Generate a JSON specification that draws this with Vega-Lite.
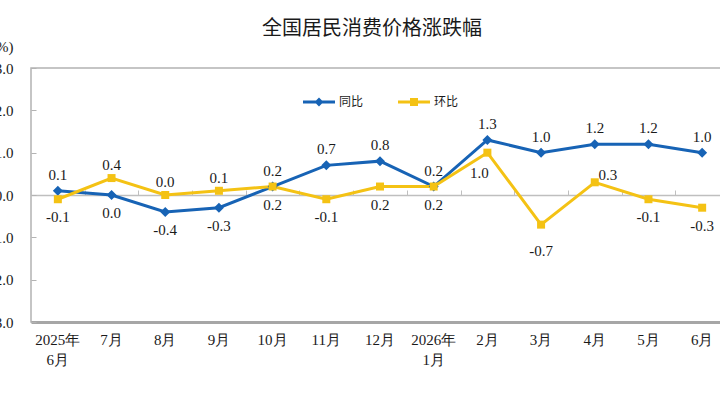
{
  "$schema": "https://vega.github.io/schema/vega-lite/v6.json",
  "autosize": "none",
  "width": 698,
  "height": 254,
  "padding": {"left": 31, "top": 68, "right": -9, "bottom": 83},
  "background": "white",
  "config": {
    "view": {"stroke": "#b3b3b3", "strokeWidth": 1.5},
    "font": "Liberation Serif"
  },
  "title": {
    "text": "全国居民消费价格涨跌幅",
    "font": "Noto Sans CJK SC",
    "fontSize": 20,
    "fontWeight": "normal",
    "color": "#1a1a1a",
    "anchor": "middle",
    "frame": "group",
    "dx": -8,
    "offset": 0
  },
  "data": {
    "values": [
      {"month": "2025年6月", "series": "同比", "value": 0.1},
      {"month": "7月", "series": "同比", "value": 0.0},
      {"month": "8月", "series": "同比", "value": -0.4},
      {"month": "9月", "series": "同比", "value": -0.3},
      {"month": "10月", "series": "同比", "value": 0.2},
      {"month": "11月", "series": "同比", "value": 0.7},
      {"month": "12月", "series": "同比", "value": 0.8},
      {"month": "2026年1月", "series": "同比", "value": 0.2},
      {"month": "2月", "series": "同比", "value": 1.3},
      {"month": "3月", "series": "同比", "value": 1.0},
      {"month": "4月", "series": "同比", "value": 1.2},
      {"month": "5月", "series": "同比", "value": 1.2},
      {"month": "6月", "series": "同比", "value": 1.0},
      {"month": "2025年6月", "series": "环比", "value": -0.1},
      {"month": "7月", "series": "环比", "value": 0.4},
      {"month": "8月", "series": "环比", "value": 0.0},
      {"month": "9月", "series": "环比", "value": 0.1},
      {"month": "10月", "series": "环比", "value": 0.2},
      {"month": "11月", "series": "环比", "value": -0.1},
      {"month": "12月", "series": "环比", "value": 0.2},
      {"month": "2026年1月", "series": "环比", "value": 0.2},
      {"month": "2月", "series": "环比", "value": 1.0},
      {"month": "3月", "series": "环比", "value": -0.7},
      {"month": "4月", "series": "环比", "value": 0.3},
      {"month": "5月", "series": "环比", "value": -0.1},
      {"month": "6月", "series": "环比", "value": -0.3}
    ]
  },
  "resolve": {"axis": {"x": "independent"}},
  "encoding": {
    "y": {
      "field": "value",
      "type": "quantitative",
      "scale": {"domain": [-3, 3]},
      "axis": {
        "title": "(%)",
        "titleAngle": 0,
        "titleAlign": "right",
        "titleBaseline": "middle",
        "titleX": -18,
        "titleY": -22,
        "titleFont": "Liberation Serif",
        "titleFontSize": 15,
        "titleFontWeight": "normal",
        "titleColor": "#1a1a1a",
        "values": [-3, -2, -1, 0, 1, 2, 3],
        "labelExpr": "replace(format(datum.value, '.1f'), '−', '-')",
        "grid": false,
        "domain": false,
        "ticks": true,
        "tickSize": -5,
        "tickColor": "#b3b3b3",
        "labelPadding": 23,
        "labelFont": "Liberation Serif",
        "labelFontSize": 15,
        "labelColor": "#1a1a1a"
      }
    }
  },
  "layer": [
    {
      "mark": {"type": "line", "strokeWidth": 3},
      "encoding": {
        "x": {
          "field": "month",
          "type": "ordinal",
          "sort": null,
          "scale": {"type": "band", "paddingInner": 0, "paddingOuter": 0},
          "axis": {
            "orient": "top",
            "offset": -127,
            "title": null,
            "labels": false,
            "grid": false,
            "ticks": true,
            "tickBand": "extent",
            "tickSize": 5,
            "tickColor": "#bfbfbf",
            "tickWidth": 1,
            "domainColor": "#bfbfbf",
            "domainWidth": 1.5
          }
        },
        "color": {
          "field": "series",
          "type": "nominal",
          "scale": {"domain": ["同比", "环比"], "range": ["#1763b5", "#f4c214"]},
          "legend": {
            "title": null,
            "orient": "none",
            "legendX": 272,
            "legendY": 18,
            "direction": "horizontal",
            "symbolSize": 1024,
            "labelFont": "Noto Sans CJK SC",
            "labelFontSize": 12,
            "labelColor": "#1a1a1a",
            "labelOffset": 4,
            "columnPadding": 34,
            "encode": {
              "symbols": {
                "update": {
                  "shape": {"signal": "datum.value === '同比' ? 'M-1,-0.09H1V0.09H-1ZM0,-0.28L0.28,0L0,0.28L-0.28,0Z' : 'M-1,-0.09H1V0.09H-1ZM-0.25,-0.25H0.25V0.25H-0.25Z'"},
                  "size": {"value": 1024},
                  "fill": {"signal": "datum.value === '同比' ? '#1763b5' : '#f4c214'"},
                  "fillOpacity": {"value": 1},
                  "strokeWidth": {"value": 0}
                }
              }
            }
          }
        }
      }
    },
    {
      "transform": [{"filter": "datum.series === '同比'"}],
      "mark": {"type": "point", "filled": true, "opacity": 1, "shape": "diamond", "size": 100, "color": "#1763b5"},
      "encoding": {
        "x": {
          "field": "month",
          "type": "ordinal",
          "sort": null,
          "axis": {
            "orient": "bottom",
            "title": null,
            "grid": false,
            "ticks": false,
            "domainColor": "#a6a6a6",
            "domainWidth": 3,
            "labelAngle": 0,
            "labelFont": "Liberation Serif",
            "labelFontSize": 15,
            "labelColor": "#1a1a1a",
            "labelPadding": 10,
            "labelBaseline": "top",
            "labelLineHeight": 20,
            "labelExpr": "indexof(datum.value, '年') > 0 ? [slice(datum.value, 0, 5), slice(datum.value, 5)] : datum.value"
          }
        }
      }
    },
    {
      "transform": [{"filter": "datum.series === '环比'"}],
      "mark": {"type": "point", "filled": true, "opacity": 1, "shape": "square", "size": 64, "color": "#f4c214"},
      "encoding": {
        "x": {"field": "month", "type": "ordinal", "sort": null, "axis": null}
      }
    },
    {
      "transform": [{"filter": "datum.series === '同比' && datum.value > 0"}],
      "mark": {"type": "text", "font": "Liberation Serif", "fontSize": 15, "color": "#1a1a1a", "baseline": "middle", "dy": -16, "text": {"expr": "replace(format(datum.value, '.1f'), '−', '-')"}},
      "encoding": {
        "x": {"field": "month", "type": "ordinal", "sort": null, "axis": null}
      }
    },
    {
      "transform": [{"filter": "datum.series === '同比' && datum.value <= 0"}],
      "mark": {"type": "text", "font": "Liberation Serif", "fontSize": 15, "color": "#1a1a1a", "baseline": "middle", "dy": 18, "text": {"expr": "replace(format(datum.value, '.1f'), '−', '-')"}},
      "encoding": {
        "x": {"field": "month", "type": "ordinal", "sort": null, "axis": null}
      }
    },
    {
      "transform": [{"filter": "datum.series === '环比' && indexof(['7月', '8月', '9月'], datum.month) >= 0"}],
      "mark": {"type": "text", "font": "Liberation Serif", "fontSize": 15, "color": "#1a1a1a", "baseline": "middle", "dy": -13, "text": {"expr": "replace(format(datum.value, '.1f'), '−', '-')"}},
      "encoding": {
        "x": {"field": "month", "type": "ordinal", "sort": null, "axis": null}
      }
    },
    {
      "transform": [{"filter": "datum.series === '环比' && indexof(['7月', '8月', '9月', '2月', '3月', '4月'], datum.month) < 0"}],
      "mark": {"type": "text", "font": "Liberation Serif", "fontSize": 15, "color": "#1a1a1a", "baseline": "middle", "dy": 18, "text": {"expr": "replace(format(datum.value, '.1f'), '−', '-')"}},
      "encoding": {
        "x": {"field": "month", "type": "ordinal", "sort": null, "axis": null}
      }
    },
    {
      "transform": [{"filter": "datum.series === '环比' && datum.month === '2月'"}],
      "mark": {"type": "text", "font": "Liberation Serif", "fontSize": 15, "color": "#1a1a1a", "baseline": "middle", "dx": -8, "dy": 20, "text": {"expr": "replace(format(datum.value, '.1f'), '−', '-')"}},
      "encoding": {
        "x": {"field": "month", "type": "ordinal", "sort": null, "axis": null}
      }
    },
    {
      "transform": [{"filter": "datum.series === '环比' && datum.month === '3月'"}],
      "mark": {"type": "text", "font": "Liberation Serif", "fontSize": 15, "color": "#1a1a1a", "baseline": "middle", "dy": 26, "text": {"expr": "replace(format(datum.value, '.1f'), '−', '-')"}},
      "encoding": {
        "x": {"field": "month", "type": "ordinal", "sort": null, "axis": null}
      }
    },
    {
      "transform": [{"filter": "datum.series === '环比' && datum.month === '4月'"}],
      "mark": {"type": "text", "font": "Liberation Serif", "fontSize": 15, "color": "#1a1a1a", "baseline": "middle", "dx": 13, "dy": -7, "text": {"expr": "replace(format(datum.value, '.1f'), '−', '-')"}},
      "encoding": {
        "x": {"field": "month", "type": "ordinal", "sort": null, "axis": null}
      }
    }
  ]
}
